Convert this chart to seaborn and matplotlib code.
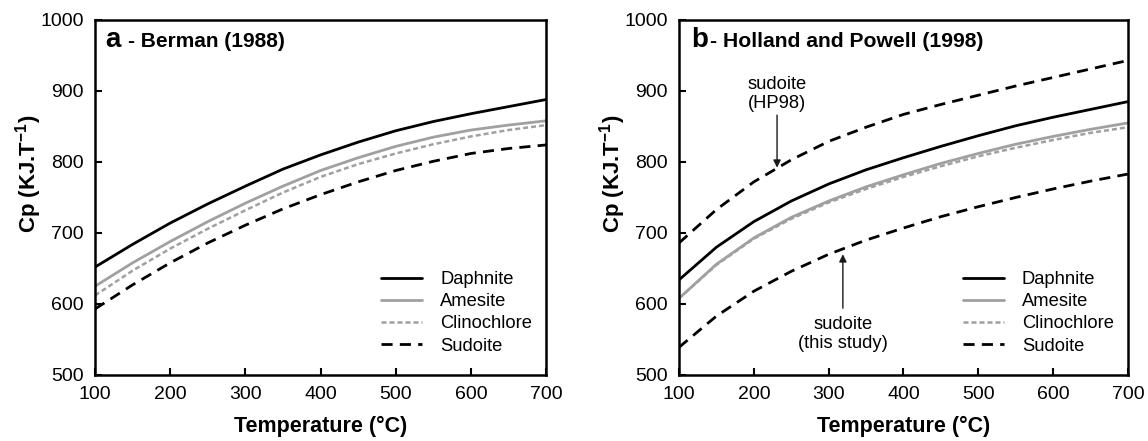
import numpy as np
import pandas as pd
import matplotlib
matplotlib.use("Agg")
import matplotlib.pyplot as plt
import seaborn as sns
from matplotlib.lines import Line2D

# Temperature grid (°C)
temperature = [100, 150, 200, 250, 300, 350, 400, 450, 500, 550, 600, 650, 700]

# Panel a - Berman (1988) heat capacities
berman_daphnite = [652, 684, 714, 741, 766, 790, 810, 828, 844, 857, 868, 878, 888]
berman_amesite = [625, 658, 688, 716, 742, 766, 788, 806, 822, 835, 845, 852, 858]
berman_clinochlore = [612, 647, 678, 706, 732, 757, 779, 797, 812, 825, 836, 845, 852]
berman_sudoite = [593, 627, 658, 686, 711, 734, 754, 772, 788, 801, 812, 819, 824]

# Panel b - Holland and Powell (1998) heat capacities
hp_daphnite = [634, 680, 716, 745, 769, 789, 806, 822, 837, 851, 863, 874, 885]
hp_amesite = [608, 656, 693, 722, 745, 765, 782, 798, 812, 825, 836, 846, 855]
hp_clinochlore = [608, 655, 692, 720, 743, 762, 779, 794, 808, 820, 831, 841, 849]
hp_sudoite_hp98 = [686, 733, 772, 803, 829, 849, 867, 881, 894, 907, 919, 931, 943]
hp_sudoite_this = [539, 583, 618, 646, 670, 690, 707, 723, 737, 750, 762, 773, 783]

legend_names = ["Daphnite", "Amesite", "Clinochlore", "Sudoite"]

sns.set_theme(style="white")
plt.rcParams["font.family"] = ["Liberation Sans", "DejaVu Sans"]
plt.rcParams["mathtext.fontset"] = "custom"
plt.rcParams["mathtext.rm"] = "Liberation Sans:bold"
plt.rcParams["mathtext.bf"] = "Liberation Sans:bold"
plt.rcParams["text.color"] = "black"
plt.rcParams["axes.labelcolor"] = "black"

styles = {
    "Daphnite": dict(color="black", linestyle="-", linewidth=2.0),
    "Amesite": dict(color="#a0a0a0", linestyle="-", linewidth=2.0),
    "Clinochlore": dict(color="#a0a0a0", linestyle=(0, (2.0, 1.2)), linewidth=1.8),
    "Sudoite": dict(color="black", linestyle=(0, (4.0, 2.6)), linewidth=2.0),
}

fig = plt.figure(figsize=(11.48, 4.41), dpi=100)
ax_a = fig.add_axes([0.0828, 0.1497, 0.393, 0.805])
ax_b = fig.add_axes([0.5915, 0.1497, 0.391, 0.805])


def draw_series(ax, values, name):
    df = pd.DataFrame({"T": temperature, "Cp": values})
    sns.lineplot(data=df, x="T", y="Cp", ax=ax, legend=False, **styles[name])


for name, vals in zip(legend_names, [berman_daphnite, berman_amesite,
                                     berman_clinochlore, berman_sudoite]):
    draw_series(ax_a, vals, name)

for name, vals in zip(["Sudoite", "Sudoite", "Clinochlore", "Amesite", "Daphnite"],
                      [hp_sudoite_hp98, hp_sudoite_this, hp_clinochlore,
                       hp_amesite, hp_daphnite]):
    draw_series(ax_b, vals, name)

for ax in (ax_a, ax_b):
    ax.set_xlim(100, 700)
    ax.set_ylim(500, 1000)
    ax.set_xticks(range(100, 701, 100))
    ax.set_yticks(range(500, 1001, 100))
    ax.tick_params(axis="both", direction="in", length=5, width=1.5,
                   labelsize=14, pad=8, colors="black", bottom=True, left=True)
    for sp in ax.spines.values():
        sp.set_linewidth(1.8)
        sp.set_color("black")
    ax.set_xlabel("Temperature (°C)", fontsize=15.5, fontweight="bold", labelpad=9)
    ax.set_ylabel(r"Cp (KJ.T$^{-1}$)", fontsize=16, fontweight="bold")
    ax.yaxis.set_label_coords(-0.114, 0.566)
    handles = [Line2D([], [], **styles[n]) for n in legend_names]
    ax.legend(handles, legend_names, loc="lower right", frameon=False,
              fontsize=13.2, handlelength=2.2, handletextpad=1.0,
              labelspacing=0.28, borderaxespad=0,
              bbox_to_anchor=(0.985, 0.037))

# Panel titles
ax_a.text(0.022, 0.924, "a", transform=ax_a.transAxes, fontsize=20,
          fontweight="bold", va="baseline", ha="left")
ax_a.text(0.073, 0.924, "- Berman (1988)", transform=ax_a.transAxes,
          fontsize=15, fontweight="bold", va="baseline", ha="left")
ax_b.text(0.027, 0.924, "b", transform=ax_b.transAxes, fontsize=20,
          fontweight="bold", va="baseline", ha="left")
ax_b.text(0.069, 0.924, "- Holland and Powell (1998)", transform=ax_b.transAxes,
          fontsize=15.2, fontweight="bold", va="baseline", ha="left")

# Sudoite annotations
arrow_kw = dict(arrowstyle="-|>", color="#1a1a1a", lw=1.0,
                mutation_scale=11, shrinkA=0, shrinkB=0)
ax_b.text(231, 896, "sudoite\n(HP98)", ha="center", va="center",
          fontsize=13.2, linespacing=1.15)
ax_b.annotate("", xy=(231, 792), xytext=(231, 866), arrowprops=arrow_kw)
ax_b.text(319, 558, "sudoite\n(this study)", ha="center", va="center",
          fontsize=13.2, linespacing=1.15)
ax_b.annotate("", xy=(319, 670), xytext=(319, 594), arrowprops=arrow_kw)

fig.savefig("out.png", dpi=100)
